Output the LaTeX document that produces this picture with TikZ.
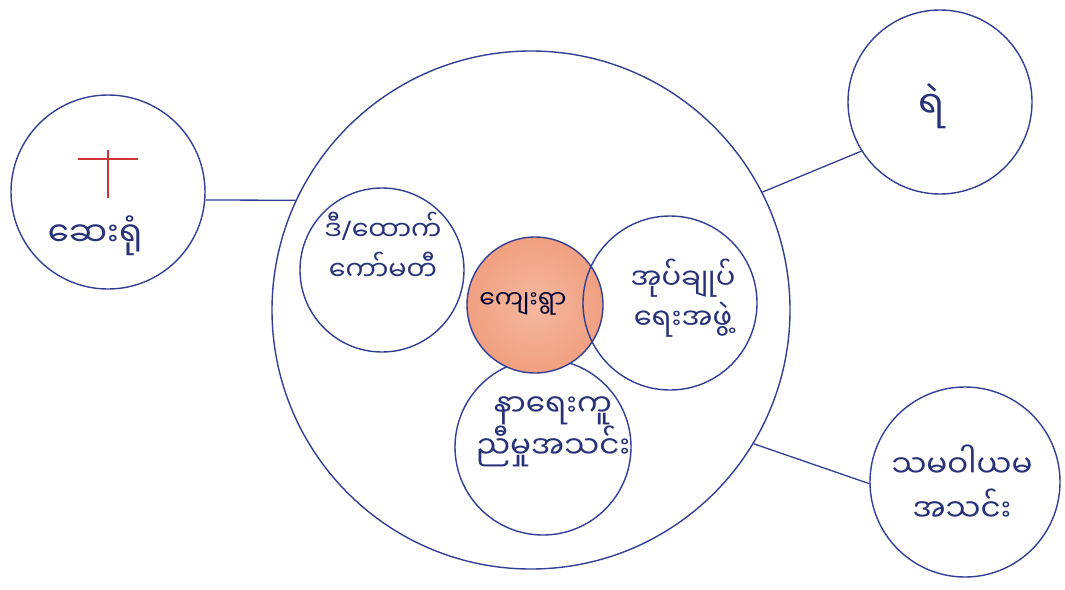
\documentclass[tikz,border=0pt]{standalone}
\usepackage{fontspec}
\newfontfamily\mya[Script=Myanmar]{Noto Sans Myanmar UI}
\newfontfamily\latn{Noto Sans}
\definecolor{pen}{RGB}{52,62,150}
\definecolor{ink}{RGB}{40,50,120}
\definecolor{peach}{RGB}{240,160,128}
\definecolor{crossred}{RGB}{210,50,55}
\begin{document}
\begin{tikzpicture}[x=1pt,y=-1pt,
  ring/.style={draw=pen,line width=1.4pt,circle,inner sep=0pt},
  link/.style={draw=pen,line width=1.3pt},
  lbl/.style={text=ink,font=\mya\fontsize{28}{40}\selectfont,align=center,inner sep=0pt}]
\useasboundingbox (0,0) rectangle (1065,589);
\fill[white] (0,0) rectangle (1065,589);
% outer circles
\node[ring,minimum size=518pt] (big) at (531,310) {};
\node[ring,minimum size=194pt] (hosp) at (108,192) {};
\node[ring,minimum size=184pt] (police) at (940,102) {};
\node[ring,minimum size=190pt] (coop) at (965,482) {};
% inner circles
\node[ring,minimum size=164pt] (comm) at (382,270) {};
\node[ring,minimum size=176pt] (funeral) at (543,447) {};
\node[ring,minimum size=136pt,shading=radial,inner color=peach!75,outer color=peach,line width=1.4pt] (village) at (535,305) {};
\node[ring,minimum size=174pt] (admin) at (670,303) {};
% connectors
\draw[link] (hosp.east |- 0,200) coordinate (h1) -- (big.155);
\draw[link] (big.27) -- (police.212);
\draw[link] (big.-31) -- (coop.181);
% red cross
\draw[crossred,line width=1.3pt] (108,150) coordinate (c1) -- (108,198) coordinate (c2);
\draw[crossred,line width=1.3pt] (78,159) coordinate (c3) -- (138,159) coordinate (c4);
% labels
\node[lbl,font=\mya\fontsize{34}{40}\selectfont] (t1) at (95,236) {ဆေးရုံ};
\node[lbl,font=\mya\fontsize{38}{40}\selectfont] (t2) at (932,106) {ရဲ};
\node[lbl,font=\mya\fontsize{27}{40}\selectfont] (t3) at (383,246) {ဒီ{\latn/}ထောက်\\ကော်မတီ};
\node[lbl,font=\mya\fontsize{25}{34}\selectfont,text=black!80!blue] (t4) at (523,304) {ကျေးရွာ};
\node[lbl,font=\mya\fontsize{29}{40}\selectfont] (t5) at (683,298) {အုပ်ချုပ်\\ရေးအဖွဲ့};
\node[lbl,font=\mya\fontsize{31}{40}\selectfont] (t6) at (553,432) {နာရေးကူ\\ညီမှုအသင်း};
\node[lbl,font=\mya\fontsize{31}{44}\selectfont] (t7) at (962,483) {သမဝါယမ\\အသင်း};
\end{tikzpicture}
\end{document}
